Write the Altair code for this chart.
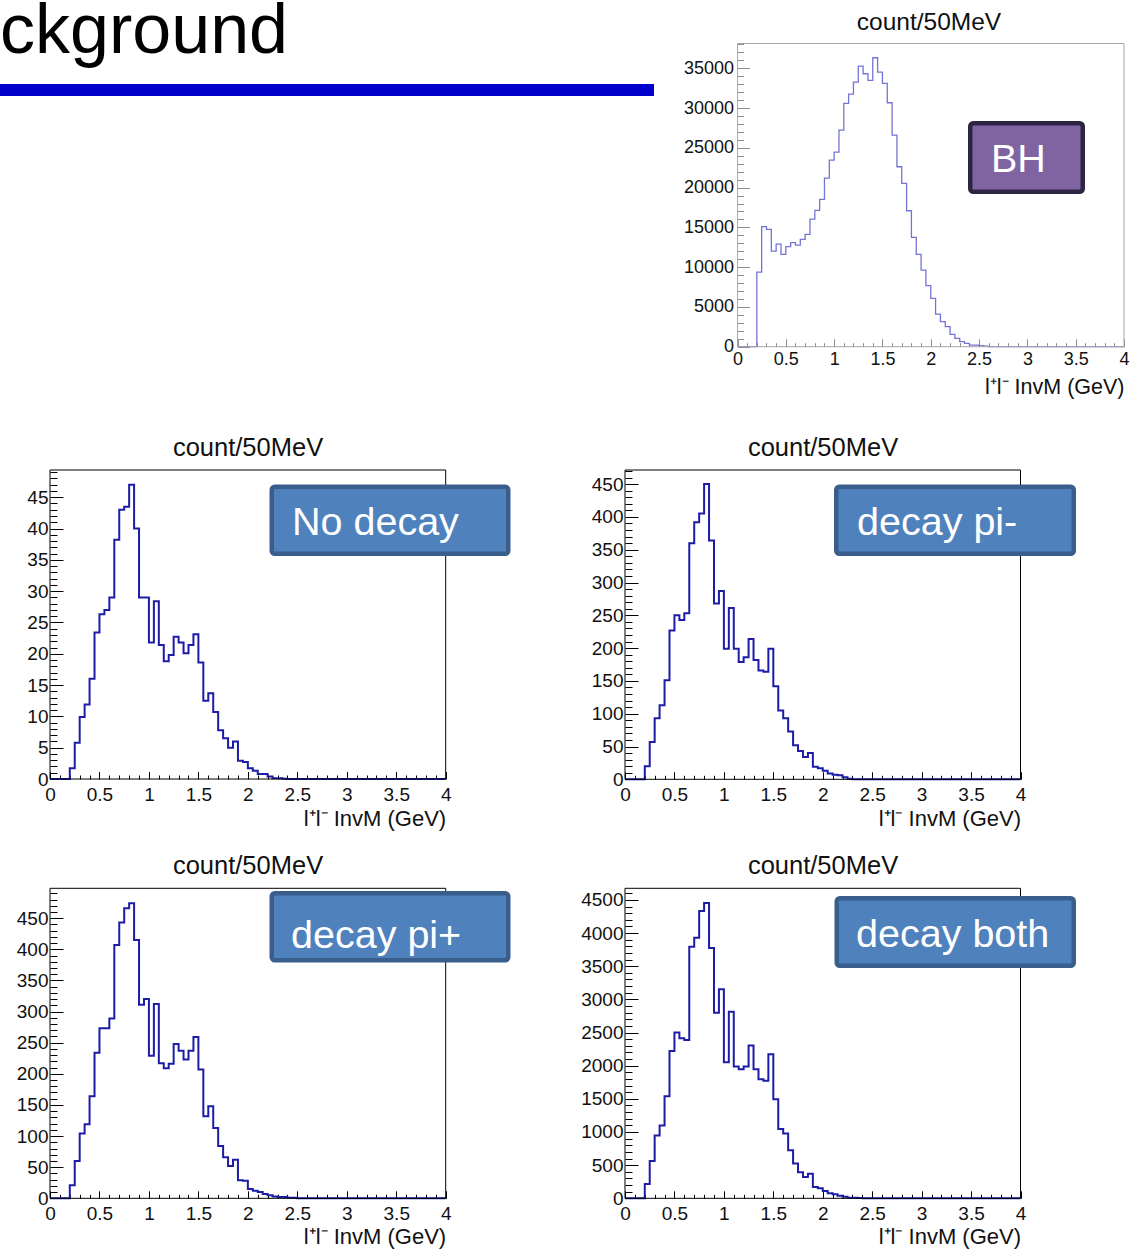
import altair as alt
import pandas as pd

# ---------------- data (counts per 50 MeV bin, first filled bin = 0.20-0.25 GeV) ----------------
BIN_WIDTH = 0.05
N_BINS = 80
FIRST_BIN = 4

bh_counts = [9386, 15084, 14749, 12025, 12905, 11606, 12570, 13073, 12780, 13492,
             14120, 16048, 17137, 18520, 21201, 23464, 24470, 27235, 30587, 31760,
             33269, 35280, 34316, 33478, 36327, 34526, 33101, 30671, 26607, 22626,
             20531, 17095, 13743, 11606, 9637, 7668, 6076, 4106, 3142, 2514,
             1550, 1048, 628, 419, 210, 210, 126, 84]

nodecay_counts = [1.7, 5.8, 9.9, 11.9, 16.0, 23.4, 26.3, 27.0, 29.0, 38.2,
                  43.0, 43.5, 47.0, 40.0, 29.0, 29.0, 21.8, 28.4, 21.4, 18.8,
                  19.8, 22.7, 21.8, 20.1, 21.4, 23.1, 18.6, 12.5, 13.7, 10.7,
                  7.8, 6.5, 5.0, 6.0, 2.9, 2.7, 1.7, 1.3, 0.8, 0.8,
                  0.4, 0.1, 0.1, 0.05]

piminus_counts = [20, 57, 93, 113, 151, 227, 250, 243, 253, 360,
                  392, 405, 450, 364, 268, 287, 199, 261, 199, 179,
                  186, 214, 182, 166, 164, 199, 142, 105, 93, 73,
                  52, 43, 34, 40, 19, 17, 13, 9, 7, 6,
                  3, 1]

piplus_counts = [21, 60, 104, 119, 164, 234, 273, 273, 289, 407,
                 443, 466, 474, 415, 311, 320, 229, 312, 217, 209,
                 216, 248, 237, 223, 237, 259, 207, 132, 148, 113,
                 84, 66, 52, 62, 29, 28, 15, 12, 10, 7,
                 5, 3, 2, 2, 1, 1]

both_counts = [216, 563, 946, 1097, 1540, 2223, 2500, 2414, 2389, 3793,
               3928, 4331, 4452, 3773, 2797, 3154, 2052, 2812, 1987, 1947,
               1987, 2304, 1947, 1796, 1771, 2173, 1494, 1046, 976, 724,
               523, 392, 322, 372, 171, 151, 111, 75, 60, 40,
               25, 10, 10, 5]

panel_titles = ["count/50MeV"] * 5
x_title = "l⁺l⁻ InvM (GeV)"
box_labels = ["BH", "No decay", "decay pi-", "decay pi+", "decay both"]
header_text = "ckground"
x_major = [0, 0.5, 1, 1.5, 2, 2.5, 3, 3.5, 4]

# ---------------- layout / style ----------------
W, H = 1138, 1249
FONT = "Liberation Sans"


def hist_df(counts):
    vals = [0.0] * FIRST_BIN + [float(c) for c in counts]
    vals += [0.0] * (N_BINS - len(vals))
    edges = [round(i * BIN_WIDTH, 2) for i in range(N_BINS)] + [4.0]
    vals = vals + [vals[-1]]
    return pd.DataFrame({"m": edges, "n": vals})


common = dict(line="#1c1ca8", lw=2, ink="#000000", frame="#000000",
              lab=19, labpad_x=6, labpad_y=2, tsize=22, xt=(7.5, 4), yt=(13, 7),
              ttl=25.5, fill="#4f81bd", border="#3a5e8b")

panels = [
    dict(counts=bh_counts, x0=737.5, x1=1124.0, ybot=346.7, ytop=43.5, ymax=38120,
         ymaj=5000, ymin=1000, line="#7474d6", lw=1.3, ink="#8c8c8c", frame="#a8a8a8",
         lab=18, labpad_x=4, labpad_y=4, tsize=21.5, tpad=8, xt=(8, 4), yt=(12, 6),
         ttl=24.5, title=(929, 29.5), box=(968, 121, 1085, 194), text=(991, 171.5),
         fill="#8064a2", border="#2e2443"),
    dict(common, counts=nodecay_counts, x0=50.0, x1=445.7, ybot=779.0, ytop=470.0,
         ymax=49.35, ymaj=5, ymin=1, tpad=4,
         title=(248, 456), box=(269.5, 484.5, 510.5, 556), text=(292, 535)),
    dict(common, counts=piminus_counts, x0=625.0, x1=1020.5, ybot=779.3, ytop=470.0,
         ymax=471.5, ymaj=50, ymin=10, tpad=4,
         title=(823, 456), box=(834, 484.5, 1076, 556), text=(857, 535)),
    dict(common, counts=piplus_counts, x0=50.0, x1=445.7, ybot=1198.3, ytop=888.3,
         ymax=498, ymaj=50, ymin=10, tpad=3,
         title=(248, 874), box=(269.5, 891, 510.5, 962.5), text=(291, 948)),
    dict(common, counts=both_counts, x0=625.0, x1=1020.5, ybot=1198.3, ytop=888.3,
         ymax=4675, ymaj=500, ymin=100, tpad=3,
         title=(823, 874), box=(834.5, 896, 1076, 968), text=(856, 947)),
]


def make_panel(p):
    xs = alt.Scale(domain=[0, 4], range=[p["x0"], p["x1"]], nice=False, zero=False)
    ys = alt.Scale(domain=[0, p["ymax"]], range=[p["ybot"], p["ytop"]], nice=False, zero=False)
    y_major = [v for v in range(0, int(p["ymax"]) + 1, p["ymaj"])]
    y_minor = [v for v in range(0, int(p["ymax"]) + 1, p["ymin"]) if v % p["ymaj"] != 0]
    x_minor = [round(i * 0.1, 1) for i in range(1, 40) if i % 5 != 0]

    line = alt.Chart(hist_df(p["counts"])).mark_line(
        interpolate="step-after", color=p["line"], strokeWidth=p["lw"]
    ).encode(
        x=alt.X("m:Q", scale=xs, axis=alt.Axis(
            orient="bottom", offset=p["ybot"] - H, values=x_major, format="~g",
            ticks=False, tickSize=0, domain=False, grid=False, labelFlush=False,
            labelOverlap=False, labelPadding=p["labpad_x"], labelFontSize=p["lab"],
            labelFont=FONT, labelColor="#111111", title=x_title, titleAnchor="end",
            titleAlign="right", titleFont=FONT, titleFontSize=p["tsize"],
            titleFontWeight="normal", titleColor="#111111", titlePadding=p["tpad"])),
        y=alt.Y("n:Q", scale=ys, axis=alt.Axis(
            orient="left", offset=-p["x0"], values=y_major, format="d",
            ticks=False, tickSize=0, domain=False, grid=False, labelFlush=False,
            labelOverlap=False, labelPadding=p["labpad_y"], labelFontSize=p["lab"],
            labelFont=FONT, labelColor="#111111", title=None)),
    )

    frame_df = pd.DataFrame({"m0": [0.0], "m1": [4.0], "n0": [0.0], "n1": [p["ymax"]]})
    frame = alt.Chart(frame_df).mark_rect(
        fillOpacity=0, stroke=p["frame"], strokeWidth=1
    ).encode(
        x=alt.X("m0:Q", scale=xs, axis=alt.Axis(
            orient="top", offset=-p["ybot"], values=x_major, labels=False,
            domain=False, grid=False, tickSize=p["xt"][0], tickColor=p["ink"],
            tickWidth=1, title=None)),
        x2="m1:Q",
        y=alt.Y("n0:Q", scale=ys, axis=alt.Axis(
            orient="right", offset=p["x0"] - W, values=y_major, labels=False,
            domain=False, grid=False, tickSize=p["yt"][0], tickColor=p["ink"],
            tickWidth=1, title=None)),
        y2="n1:Q",
    )

    minor = alt.Chart(frame_df).mark_point(opacity=0).encode(
        x=alt.X("m0:Q", scale=xs, axis=alt.Axis(
            orient="top", offset=-p["ybot"], values=x_minor, labels=False,
            domain=False, grid=False, tickSize=p["xt"][1], tickColor=p["ink"],
            tickWidth=1, title=None)),
        y=alt.Y("n0:Q", scale=ys, axis=alt.Axis(
            orient="right", offset=p["x0"] - W, values=y_minor, labels=False,
            domain=False, grid=False, tickSize=p["yt"][1], tickColor=p["ink"],
            tickWidth=1, title=None)),
    )
    return alt.layer(line, frame, minor).resolve_axis(x="independent", y="independent")


def decorations(p, label, title):
    l, t, r, b = p["box"]
    sw = 4.5
    title_mark = alt.Chart(pd.DataFrame({"t": [title]})).mark_text(
        font=FONT, fontSize=p["ttl"], color="#111111", align="center", baseline="alphabetic"
    ).encode(x=alt.value(p["title"][0]), y=alt.value(p["title"][1]), text="t:N")
    box = alt.Chart(pd.DataFrame({"t": [label]})).mark_rect(
        fill=p["fill"], stroke=p["border"], strokeWidth=sw, cornerRadius=3
    ).encode(x=alt.value(l + sw / 2), x2=alt.value(r - sw / 2),
             y=alt.value(t + sw / 2), y2=alt.value(b - sw / 2))
    txt = alt.Chart(pd.DataFrame({"t": [label]})).mark_text(
        font=FONT, fontSize=39.5, color="white", align="left", baseline="alphabetic"
    ).encode(x=alt.value(p["text"][0]), y=alt.value(p["text"][1]), text="t:N")
    return [title_mark, box, txt]


header = alt.Chart(pd.DataFrame({"t": [header_text]})).mark_text(
    font=FONT, fontSize=70, color="black", align="right", baseline="alphabetic"
).encode(x=alt.value(288), y=alt.value(53), text="t:N")

bar = alt.Chart(pd.DataFrame({"k": [0]})).mark_rect(color="#0000cc").encode(
    x=alt.value(0), x2=alt.value(654), y=alt.value(84), y2=alt.value(96))

layers = [make_panel(p) for p in panels]
for p, lab, ttl in zip(panels, box_labels, panel_titles):
    layers += decorations(p, lab, ttl)
layers += [header, bar]

chart = alt.layer(*layers).resolve_scale(
    x="independent", y="independent"
).resolve_axis(
    x="independent", y="independent"
).properties(
    width=W, height=H, padding=0, background="white",
    autosize=alt.AutoSizeParams(type="none"),
).configure_view(stroke=None)

chart.save("out.html", embed_options={"renderer": "svg", "actions": False})
